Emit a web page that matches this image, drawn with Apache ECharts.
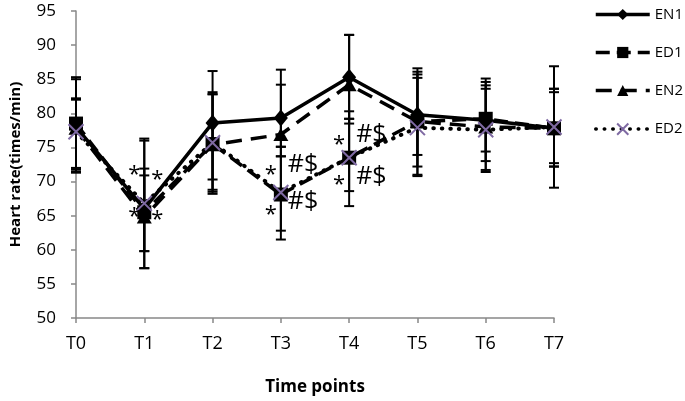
<!DOCTYPE html>
<html><head><meta charset="utf-8">
<script src="https://cdn.jsdelivr.net/npm/echarts@6/dist/echarts.min.js"></script>
<style>html,body{margin:0;padding:0;background:#fff}#c{width:685px;height:401px}</style>
</head><body><div id="c"></div>
<script>
// ---- data ----
const categories = ['T0','T1','T2','T3','T4','T5','T6','T7'];
const seriesNames = ['EN1','ED1','EN2','ED2'];
const EN1 = [78.0, 66.0, 78.6, 79.3, 85.3, 79.8, 79.0, 77.8];
const ED1 = [78.5, 65.5, 75.5, 68.1, 73.5, 78.8, 79.2, 77.8];
const EN2 = [77.8, 64.8, 75.4, 76.9, 84.2, 78.8, 78.0, 77.8];
const ED2 = [77.3, 66.8, 75.7, 68.4, 73.5, 77.9, 77.6, 78.0];
const EN1_hi = [85.3, 71.9, 86.2, 86.4, 91.5, 86.6, 85.1, 86.9];
const EN1_lo = [71.5, 59.8, 70.3, 73.7, 79.2, 73.9, 73.0, 72.7];
const ED1_hi = [85.0, 76.0, 83.1, 73.7, 80.3, 86.1, 84.6, 83.6];
const ED1_lo = [71.3, 57.3, 68.2, 61.5, 66.4, 70.8, 74.4, 72.2];
const EN2_hi = [82.2, 70.9, 82.8, 84.2, 91.5, 85.7, 84.1, 83.1];
const EN2_lo = [72.0, 59.8, 68.8, 75.1, 78.5, 72.2, 71.7, 72.2];
const ED2_hi = [82.0, 76.3, 82.8, 75.1, 79.2, 85.2, 83.6, 83.6];
const ED2_lo = [71.8, 57.3, 68.5, 62.8, 68.6, 71.0, 71.4, 69.1];
const yMin = 50, yMax = 95, yStep = 5;
// significance marks: category, value position, text, side of the category
const markCats  = ['T1','T1','T1','T1','T3','T3','T3','T3','T4','T4','T4','T4'];
const markVals  = [71.8, 71.0, 65.6, 65.2, 71.8, 72.5, 65.9, 67.0, 76.2, 76.9, 70.3, 70.7];
const markTexts = ['*','*','*','*','*','#$','*','#$','*','#$','*','#$'];
const markSides = ['L','R','L','R','L','R','L','R','L','R','L','R'];

// ---- chart ----
const chart = echarts.init(document.getElementById('c'), null, {renderer:'canvas'});
const FONT = 'Open Sans';
const purple = '#7f6aa3';

function errRender(params, api){
  const x = api.value(0), lo = api.value(1), hi = api.value(2);
  const a = api.coord([x, hi]), b = api.coord([x, lo]);
  const w = 5;
  const st = {stroke:'#000', lineWidth:2};
  return {type:'group', children:[
    {type:'line', shape:{x1:a[0],y1:a[1],x2:b[0],y2:b[1]}, style:st},
    {type:'line', shape:{x1:a[0]-w,y1:a[1],x2:a[0]+w,y2:a[1]}, style:st},
    {type:'line', shape:{x1:b[0]-w,y1:b[1],x2:b[0]+w,y2:b[1]}, style:st}
  ]};
}
function errSeries(lo, hi){
  return {type:'custom', renderItem: errRender, z:1, silent:true,
    encode:{x:0, y:[1,2]},
    data: categories.map((c,i)=>[i, lo[i], hi[i]])};
}
function markRender(params, api){
  const i = params.dataIndex;
  const p = api.coord([api.value(0), api.value(1)]);
  const side = markSides[i];
  const isStar = markTexts[i] === '*';
  const dx = side === 'L' ? -4 : 7;
  return {type:'text', x: p[0] + dx, y: p[1] + (isStar ? 5 : 0),
    style:{text: markTexts[i], fill:'#000', font: (isStar ? '22px' : '25px') + ' "' + FONT + '"',
      align: side === 'L' ? 'right' : 'left', verticalAlign:'middle'}};
}

const lineBase = {type:'line', z:3, symbolKeepAspect:true};
const option = {
  animation:false,
  backgroundColor:'#fff',
  grid:{left:75, right:131, top:11, bottom:82, containLabel:false},
  xAxis:{type:'category', data:categories, boundaryGap:false,
    axisLine:{lineStyle:{color:'#888', width:1.5}},
    axisTick:{show:true, length:5, lineStyle:{color:'#888', width:1.5}},
    axisLabel:{color:'#000', fontSize:18, fontFamily:FONT, margin:17},
    name:'Time points', nameLocation:'middle', nameGap:61,
    nameTextStyle:{color:'#000', fontSize:17, fontWeight:'bold', fontFamily:FONT},
    splitLine:{show:false}},
  yAxis:{type:'value', min:yMin, max:yMax, interval:yStep,
    axisLine:{show:true, lineStyle:{color:'#888', width:1.5}},
    axisTick:{show:true, length:5, lineStyle:{color:'#888', width:1.5}},
    axisLabel:{color:'#000', fontSize:17, fontFamily:FONT, margin:20},
    name:'Heart rate(times/min)', nameLocation:'middle', nameGap:53,
    nameTextStyle:{color:'#000', fontSize:15, fontWeight:'bold', fontFamily:FONT},
    splitLine:{show:false}},
  legend:{orient:'vertical', left:589, top:2, itemWidth:54, itemHeight:14, itemGap:23,
    textStyle:{color:'#000', fontSize:15, fontFamily:FONT},
    lineStyle:{width:3.5},
    data: seriesNames},
  series:[
    errSeries(EN1_lo, EN1_hi), errSeries(ED1_lo, ED1_hi),
    errSeries(EN2_lo, EN2_hi), errSeries(ED2_lo, ED2_hi),
    Object.assign({}, lineBase, {name:'EN1', data:EN1, symbol:'diamond', symbolSize:[14,17],
      itemStyle:{color:'#000'}, lineStyle:{color:'#000', width:3.5, type:'solid'}}),
    Object.assign({}, lineBase, {name:'ED1', data:ED1, symbol:'rect', symbolSize:14,
      itemStyle:{color:'#000'}, lineStyle:{color:'#000', width:3.5, type:[14,7]}}),
    Object.assign({}, lineBase, {name:'EN2', data:EN2, symbol:'triangle', symbolSize:[15,13],
      itemStyle:{color:'#000'}, lineStyle:{color:'#000', width:3.5, type:[16,9]}}),
    Object.assign({}, lineBase, {name:'ED2', data:ED2, symbol:'path://M0,0L10,10M10,0L0,10', symbolSize:15,
      itemStyle:{color:'none', borderColor:purple, borderWidth:2},
      lineStyle:{color:'#000', width:4, type:[0.5,8], cap:'round'}}),
    {type:'custom', z:5, silent:true, renderItem: markRender, encode:{x:0, y:1},
      data: markCats.map((c,i)=>[categories.indexOf(c), markVals[i]])}
  ]
};
chart.setOption(option);
</script></body></html>
